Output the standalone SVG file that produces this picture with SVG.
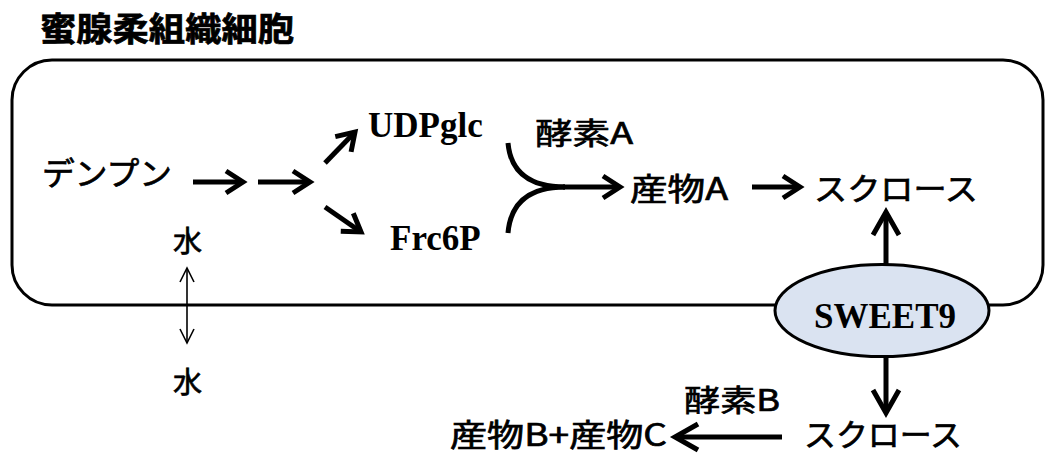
<svg xmlns="http://www.w3.org/2000/svg" width="1050" height="453" viewBox="0 0 1050 453">
<style>
.jp{font-family:"Noto Sans CJK JP","Noto Sans",sans-serif;fill:#000;stroke:#000;stroke-width:0.7}
.tm{font-family:"Liberation Serif","Times New Roman",serif;font-weight:bold;fill:#000}
.thick{stroke:#000;stroke-width:5;fill:none}
.thin{stroke:#000;stroke-width:1.6;fill:none}
</style>
<defs>
<marker id="ah" markerUnits="userSpaceOnUse" markerWidth="40" markerHeight="40" viewBox="-25 -20 40 40" refX="0" refY="0" orient="auto" overflow="visible">
<path d="M-17,-11 L0,0 L-17,11" fill="none" stroke="#000" stroke-width="5" stroke-linejoin="miter"/>
</marker>
<marker id="ahb" markerUnits="userSpaceOnUse" markerWidth="50" markerHeight="50" viewBox="-30 -25 50 50" refX="0" refY="0" orient="auto" overflow="visible">
<path d="M-23,-13 L0,0 L-23,13" fill="none" stroke="#000" stroke-width="5" stroke-linejoin="miter"/>
</marker>
<marker id="aht" markerUnits="userSpaceOnUse" markerWidth="30" markerHeight="30" viewBox="-15 -15 30 30" refX="0" refY="0" orient="auto-start-reverse" overflow="visible">
<path d="M-14,-7 L0,0 L-14,7" fill="none" stroke="#000" stroke-width="1.6"/>
</marker>
</defs>
<rect width="1050" height="453" fill="#fff"/>
<g id="cell">
<rect x="12" y="60" width="1031" height="245" rx="40" ry="40" fill="none" stroke="#000" stroke-width="3"/>
<text class="jp" x="40" y="41" font-size="33" font-weight="bold" stroke-width="0.3" textLength="254" lengthAdjust="spacingAndGlyphs">蜜腺柔組織細胞</text>
</g>
<g id="connectors">
<line class="thick" x1="193" y1="182" x2="243" y2="182" marker-end="url(#ah)"/>
<line class="thick" x1="258" y1="182" x2="310" y2="182" marker-end="url(#ah)"/>
<line class="thick" x1="325" y1="163" x2="355" y2="132" marker-end="url(#ah)"/>
<line class="thick" x1="325" y1="207" x2="361" y2="232" marker-end="url(#ah)"/>
<path class="thick" d="M508,143 Q512,187 565,187"/>
<path class="thick" d="M508,233 Q512,187 565,187"/>
<line class="thick" x1="563" y1="187" x2="620" y2="187" marker-end="url(#ah)"/>
<line class="thick" x1="752" y1="187" x2="800" y2="187" marker-end="url(#ah)"/>
<line class="thick" x1="886" y1="264" x2="886" y2="212" marker-end="url(#ahb)"/>
<line class="thick" x1="886" y1="357" x2="886" y2="413" marker-end="url(#ahb)"/>
<line class="thick" x1="782" y1="437" x2="675" y2="437" marker-end="url(#ahb)"/>
<line class="thin" x1="187" y1="268" x2="187" y2="343" marker-start="url(#aht)" marker-end="url(#aht)"/>
</g>
<g id="n-denpun"><text class="jp" x="42" y="185" font-size="32" textLength="130" lengthAdjust="spacingAndGlyphs">デンプン</text></g>
<g id="n-udpglc"><text class="tm" x="368" y="137" font-size="35">UDPglc</text></g>
<g id="n-frc6p"><text class="tm" x="390" y="250" font-size="35">Frc6P</text></g>
<g id="n-water1"><text class="jp" x="173" y="252" font-size="29">水</text></g>
<g id="n-water2"><text class="jp" x="173" y="393" font-size="29">水</text></g>
<g id="n-enzymeA"><text class="jp" x="535" y="144" font-size="30" textLength="98" lengthAdjust="spacingAndGlyphs">酵素A</text></g>
<g id="n-productA"><text class="jp" x="630" y="200" font-size="31" textLength="98" lengthAdjust="spacingAndGlyphs">産物A</text></g>
<g id="n-sucrose1"><text class="jp" x="814" y="200" font-size="31" textLength="164" lengthAdjust="spacingAndGlyphs">スクロース</text></g>
<g id="n-sweet9">
<ellipse cx="882" cy="310.5" rx="107" ry="46" fill="#dae3f1" stroke="#000" stroke-width="3"/>
<text class="tm" x="885" y="328" font-size="35" text-anchor="middle">SWEET9</text>
</g>
<g id="n-enzymeB"><text class="jp" x="684" y="411" font-size="30" textLength="96" lengthAdjust="spacingAndGlyphs">酵素B</text></g>
<g id="n-products"><text class="jp" x="450" y="446" font-size="31" textLength="217" lengthAdjust="spacingAndGlyphs">産物B+産物C</text></g>
<g id="n-sucrose2"><text class="jp" x="804" y="446" font-size="31" textLength="158" lengthAdjust="spacingAndGlyphs">スクロース</text></g>
</svg>
